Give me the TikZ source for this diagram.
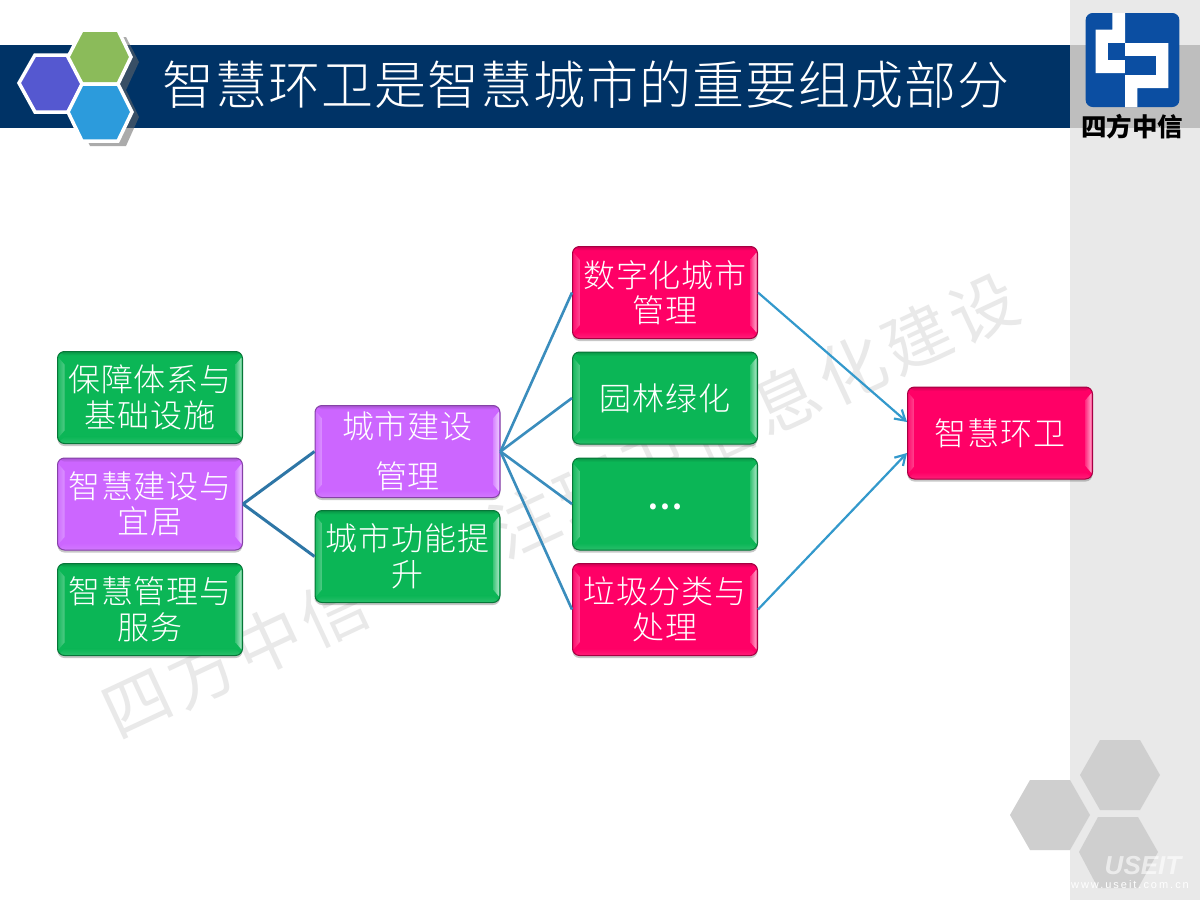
\documentclass[tikz,border=0pt]{standalone}
\usepackage{fontspec}
\setmainfont{Noto Sans CJK SC}
\newfontfamily\boxfont[LetterSpace=3]{Noto Sans CJK SC Light}
\newfontfamily\titlefont[LetterSpace=2]{Noto Sans CJK SC Light}
\newfontfamily\markfont[LetterSpace=8]{Noto Sans CJK SC}
\newfontfamily\brandfont{Liberation Sans}
\usetikzlibrary{arrows.meta,calc}
\definecolor{boxgreen}{HTML}{0BB656}
\definecolor{boxpink}{HTML}{FF0066}
\definecolor{boxpurple}{HTML}{CC66FF}
\definecolor{navy}{HTML}{003366}
\definecolor{panel}{HTML}{E9E9E9}
\definecolor{band}{HTML}{BEBEBE}
\definecolor{logoblue}{HTML}{0B4EA2}
\definecolor{hexgray}{HTML}{CFCFCF}
\definecolor{markgray}{HTML}{E9E9E9}
\definecolor{linkdark}{HTML}{2E76A6}
\definecolor{linkmid}{HTML}{3A8DBD}
\definecolor{linkarrow}{HTML}{3399CC}
\tikzset{
  bevel/.style={
    fill=#1, draw=#1!65!black, line width=1pt, rounded corners=7pt,
    text=white, align=center, inner sep=0pt, anchor=center,
    minimum width=185pt, minimum height=92pt,
    font=\boxfont\fontsize{32}{35.5}\selectfont,
    preaction={fill=black, opacity=.22, transform canvas={yshift=-2.5pt}},
    path picture={
      \coordinate (NW) at (path picture bounding box.north west);
      \coordinate (NE) at (path picture bounding box.north east);
      \coordinate (SW) at (path picture bounding box.south west);
      \coordinate (SE) at (path picture bounding box.south east);
      \begin{scope}[sharp corners]
      \shade[top color=#1!82!black, bottom color=#1]
        (NW) -- (NE) -- ([shift={(-7,4)}]NE) -- ([shift={(7,4)}]NW) -- cycle;
      \shade[top color=#1, bottom color=#1!88!white]
        (SW) -- (SE) -- ([shift={(-7,-7)}]SE) -- ([shift={(7,-7)}]SW) -- cycle;
      \shade[left color=#1!92!white, right color=#1!72!white]
        ([shift={(1,6)}]NW) -- ([shift={(7,13)}]NW) -- ([shift={(7,-13)}]SW) -- ([shift={(1,-6)}]SW) -- cycle;
      \shade[left color=#1!80!white, right color=#1!35!white]
        ([shift={(-7,13)}]NE) -- ([shift={(-1,6)}]NE) -- ([shift={(-1,-6)}]SE) -- ([shift={(-7,-13)}]SE) -- cycle;
      \end{scope}
    }
  },
  tallgap/.style={font=\boxfont\fontsize{32}{50}\selectfont},
  hexshadow/.style={fill=black!60, opacity=.55},
  hexcell/.style={draw=white, line width=3.5pt, line join=miter},
  graycell/.style={fill=hexgray},
  linkthick/.style={draw=linkdark, line width=3pt},
  linkfan/.style={draw=linkmid, line width=2.6pt},
  linkarr/.style={draw=linkarrow, line width=2.2pt, -{Straight Barb[length=10pt,width=12pt,line width=2.2pt]}},
}
\begin{document}
\begin{tikzpicture}[x=1pt,y=-1pt]
\useasboundingbox (0,0) rectangle (1200,900);
\fill[white] (0,0) rectangle (1200,900);
% right panel and header
\fill[panel] (1070,0) rectangle (1200,900);
\fill[band] (1070,45) rectangle (1200,128);
\fill[navy] (0,45) rectangle (1070,128);
% watermark
\node[rotate=25, text=markgray, font=\markfont\fontsize{67}{70}\selectfont, anchor=center] (mark) at (560,505) {四方中信—专注环卫信息化建设};
% lower-right decoration
\fill[graycell] (1080,775) -- (1100,740) -- (1140,740) -- (1160,775) -- (1140,810) -- (1100,810) -- cycle;
\fill[graycell] (1010,815) -- (1030,780) -- (1070,780) -- (1090,815) -- (1070,850) -- (1030,850) -- cycle;
\fill[graycell] (1079,852) -- (1098,817) -- (1138,817) -- (1158,852) -- (1138,888) -- (1098,888) -- cycle;
\node[text=white, opacity=.6, font=\brandfont\bfseries\itshape\fontsize{26}{26}\selectfont] (brand) at (1143,866) {USEIT};
\node[text=white, font=\brandfont\fontsize{11}{11}\selectfont] (site) at (1130,885) {\addfontfeature{LetterSpace=18}www.useit.com.cn};
% header hexagons
\fill[hexshadow] (90,37) -- (126,37) -- (139,62) -- (126,90) -- (139,117) -- (126,146) -- (90,146) -- (76,117) -- (76,62) -- cycle;
\filldraw[hexcell, fill={rgb,255:red,85;green,88;blue,208}] (35,55) -- (68,55) -- (83,83) -- (68,112) -- (35,112) -- (19,83) -- cycle;
\filldraw[hexcell, fill={rgb,255:red,139;green,187;blue,90}] (82,30) -- (118,30) -- (131,57) -- (118,84) -- (82,84) -- (68,57) -- cycle;
\filldraw[hexcell, fill={rgb,255:red,44;green,155;blue,220}] (82,84) -- (118,84) -- (132,112) -- (118,141) -- (82,141) -- (68,112) -- cycle;
% title
\node[text=white, font=\titlefont\fontsize{52}{54}\selectfont, anchor=center] (title) at (586,85) {智慧环卫是智慧城市的重要组成部分};
% logo
\begin{scope}[shift={(1080,8)}, scale=1/3]
\fill[logoblue, rounded corners=7pt] (17,15) rectangle (298,297);
\fill[white] (97,15) -- (135,15) -- (135,105) -- (265,105) -- (265,240) -- (172,240) -- (172,297) -- (135,297) -- (135,195) -- (47,195) -- (47,65) -- (97,65) -- cycle;
\fill[logoblue] (85,105) rectangle (135,155);
\fill[logoblue] (135,145) rectangle (228,200);
\end{scope}
\node[text=black, font=\fontsize{25.5}{26}\selectfont\bfseries, anchor=center] (logotext) at (1132,127) {四方中信};
% boxes
\node[bevel=boxgreen] (a1) at (150,397.5) {保障体系与\\基础设施};
\node[bevel=boxpurple] (a2) at (150,504) {智慧建设与\\宜居};
\node[bevel=boxgreen] (a3) at (150,609.5) {智慧管理与\\服务};
\node[bevel=boxpurple, tallgap] (b1) at (407.5,451.5) {城市建设\\管理};
\node[bevel=boxgreen] (b2) at (407.5,556.5) {城市功能提\\升};
\node[bevel=boxpink] (c1) at (665,292.5) {数字化城市\\管理};
\node[bevel=boxgreen] (c2) at (665,398) {园林绿化};
\node[bevel=boxgreen] (c3) at (665,504) {\raisebox{-12pt}{\bfseries …}};
\node[bevel=boxpink] (c4) at (665,609.5) {垃圾分类与\\处理};
\node[bevel=boxpink] (d) at (1000,433) {\raisebox{2pt}{智慧环卫}};
% connectors
\draw[linkthick] (a2.east) -- (b1.west);
\draw[linkthick] (a2.east) -- (b2.west);
\draw[linkfan] (b1.east) -- (c1.west);
\draw[linkfan] (b1.east) -- (c2.west);
\draw[linkfan] (b1.east) -- (c3.west);
\draw[linkfan] (b1.east) -- (c4.west);
\draw[linkarr] (c1.east) -- ([yshift=11pt]d.west);
\draw[linkarr] (c4.east) -- ([yshift=-20pt]d.west);
\end{tikzpicture}
\end{document}
